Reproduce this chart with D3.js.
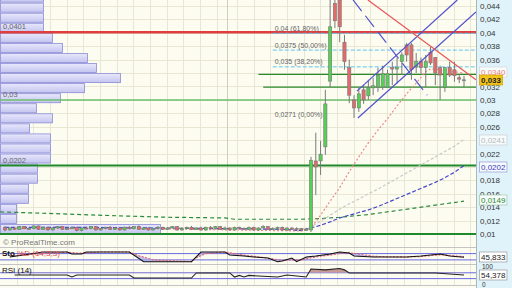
<!DOCTYPE html>
<html>
<head>
<meta charset="utf-8">
<script src="https://cdnjs.cloudflare.com/ajax/libs/d3/7.8.5/d3.min.js"></script>
<style>
body { margin: 0; background: #fff; }
svg { display: block; font-family: "Liberation Sans", Arial, sans-serif; }
</style>
</head>
<body>
<div id="chart"></div>
<script>
// daily candles, index 0..96 (flat base, then the breakout)
let opens = [
  0.0110,0.0106,0.0109,0.0107,0.0111,0.0108,0.0108,0.0112,0.0107,0.0110,
  0.0106,0.0109,0.0111,0.0107,0.0108,0.0110,0.0105,0.0109,0.0108,0.0111,
  0.0106,0.0108,0.0110,0.0107,0.0109,0.0106,0.0110,0.0108,0.0111,0.0107,
  0.0109,0.0106,0.0108,0.0110,0.0107,0.0109,0.0111,0.0106,0.0108,0.0110,
  0.0107,0.0109,0.0106,0.0110,0.0108,0.0111,0.0107,0.0109,0.0106,0.0110,
  0.0108,0.0107,0.0110,0.0106,0.0109,0.0111,0.0107,0.0108,0.0110,0.0106,
  0.0109,0.0107,0.0108,0.0106,
  0.0106,0.0209,0.0209,0.0230,0.0328,0.0444,0.0449,0.0386,0.0348,0.0300,
  0.0288,0.0315,0.0306,0.0318,0.0319,0.0319,0.0319,0.0348,0.0346,0.0357,
  0.0382,0.0382,0.0349,0.0357,0.0348,0.0371,0.0363,0.0348,0.0319,0.0348,
  0.0345,0.0333,0.0330];
let highs = [
  0.0112,0.0110,0.0110,0.0112,0.0112,0.0110,0.0113,0.0113,0.0111,0.0111,
  0.0110,0.0112,0.0112,0.0110,0.0111,0.0111,0.0110,0.0111,0.0112,0.0112,
  0.0109,0.0111,0.0112,0.0110,0.0110,0.0111,0.0112,0.0112,0.0113,0.0110,
  0.0110,0.0109,0.0112,0.0111,0.0110,0.0112,0.0112,0.0110,0.0111,0.0112,
  0.0110,0.0111,0.0111,0.0112,0.0112,0.0112,0.0111,0.0110,0.0111,0.0111,
  0.0110,0.0111,0.0111,0.0110,0.0113,0.0112,0.0110,0.0111,0.0111,0.0110,
  0.0110,0.0110,0.0109,0.0109,
  0.0215,0.0251,0.0239,0.0315,0.0460,0.0460,0.0460,0.0397,0.0360,0.0307,
  0.0319,0.0322,0.0330,0.0333,0.0348,0.0351,0.0345,0.0357,0.0363,0.0371,
  0.0385,0.0385,0.0370,0.0363,0.0367,0.0379,0.0364,0.0351,0.0349,0.0357,
  0.0357,0.0339,0.0336];
let lows = [
  0.0104,0.0105,0.0106,0.0106,0.0107,0.0106,0.0107,0.0106,0.0106,0.0105,
  0.0105,0.0108,0.0106,0.0106,0.0107,0.0104,0.0104,0.0107,0.0107,0.0105,
  0.0105,0.0107,0.0106,0.0106,0.0105,0.0105,0.0107,0.0107,0.0106,0.0106,
  0.0105,0.0105,0.0107,0.0106,0.0106,0.0108,0.0105,0.0105,0.0107,0.0106,
  0.0106,0.0105,0.0105,0.0107,0.0107,0.0106,0.0106,0.0105,0.0105,0.0107,
  0.0106,0.0106,0.0105,0.0105,0.0108,0.0106,0.0106,0.0107,0.0105,0.0105,
  0.0106,0.0106,0.0105,0.0105,
  0.0103,0.0158,0.0188,0.0218,0.0319,0.0407,0.0386,0.0345,0.0295,0.0273,
  0.0282,0.0294,0.0300,0.0307,0.0312,0.0315,0.0318,0.0322,0.0324,0.0337,
  0.0357,0.0330,0.0340,0.0339,0.0319,0.0352,0.0322,0.0300,0.0312,0.0334,
  0.0327,0.0325,0.0319];
let closes = [
  0.0106,0.0109,0.0107,0.0111,0.0108,0.0108,0.0112,0.0107,0.0110,0.0106,
  0.0109,0.0111,0.0107,0.0108,0.0110,0.0105,0.0109,0.0108,0.0111,0.0106,
  0.0108,0.0110,0.0107,0.0109,0.0106,0.0110,0.0108,0.0111,0.0107,0.0109,
  0.0106,0.0108,0.0110,0.0107,0.0109,0.0111,0.0106,0.0108,0.0110,0.0107,
  0.0109,0.0106,0.0110,0.0108,0.0111,0.0107,0.0109,0.0106,0.0110,0.0108,
  0.0107,0.0110,0.0106,0.0109,0.0111,0.0107,0.0108,0.0110,0.0106,0.0109,
  0.0107,0.0108,0.0106,0.0107,
  0.0210,0.0200,0.0219,0.0294,0.0409,0.0418,0.0409,0.0357,0.0307,0.0288,
  0.0309,0.0300,0.0318,0.0321,0.0337,0.0339,0.0339,0.0346,0.0349,0.0367,
  0.0367,0.0345,0.0357,0.0348,0.0357,0.0355,0.0340,0.0337,0.0348,0.0337,
  0.0336,0.0331,0.0330];

// moving averages, [candle index, value]
let maPink = [[0,0.0108],[30,0.0108],[62,0.01045],[64,0.0109],[66,0.0128],[68,0.0149],[70,0.0169],[72,0.0193],
  [74,0.0215],[76,0.0236],[78,0.0255],[80,0.0272],[82,0.0291],[84,0.0309],[86,0.0325],[88,0.0342],
  [89,0.0346],[90,0.0346],[92,0.0343],[94,0.0342],[96,0.0340]];
let maGrey = [[50,0.0108],[62,0.0106],[64,0.0111],[66,0.0119],[68,0.0128],[70,0.0137],[72,0.0145],[74,0.0152],
  [76,0.0160],[78,0.0167],[80,0.0175],[82,0.0183],[84,0.0191],[86,0.0199],[88,0.0207],[90,0.0215],
  [92,0.0223],[94,0.0231],[96,0.0241]];
let maBlue = [[0,0.0110],[15,0.0110],[30,0.0109],[45,0.0108],[58,0.0107],[62,0.0105],[64,0.0109],[66,0.0113],
  [68,0.0118],[70,0.0124],[72,0.0128],[74,0.0132],[76,0.0136],[78,0.0141],[80,0.0147],[82,0.0153],
  [84,0.0159],[86,0.0165],[88,0.0171],[90,0.0177],[92,0.0184],[94,0.0192],[96,0.0202]];
let maGreen = [[-1,0.0133],[12,0.0130],[24,0.0127],[34,0.0125],[46,0.0124],[48,0.0122],[62,0.0122],
  [66,0.0123],[70,0.0125],[76,0.0129],[82,0.0135],[88,0.0141],[96,0.0149]];

// volume by price (bins of 0.0015 from 0.01), thousands
let profileBins = [0.0100,0.0115,0.0130,0.0145,0.0160,0.0175,0.0190,0.0205,0.0220,0.0235,0.0250,0.0265,
  0.0280,0.0295,0.0310,0.0325,0.0340,0.0355,0.0370,0.0385,0.0400,0.0415,0.0430,0.0445];
let profileVolumes = [1600,160,160,280,280,370,370,500,500,500,290,520,360,600,840,1200,960,870,620,520,430,430,430,430];

// horizontal levels
let levelValues = [0.0401, 0.03, 0.0202, 0.01];
let supportValues = [0.0338, 0.0319];
let supportStart = [53, 54];

// fibonacci retracement
let fibValues = [0.04, 0.0375, 0.035, 0.0271];
let fibPcts = [61.8, 50, 38.2, 0];
let fibStart = 56;

// trendlines, [index, price] end points
let channelLines = [[[73.6,0.0313],[94.6,0.0449]], [[73.8,0.0273],[98.5,0.0431]]];
let dashedLine = [[72.8,0.0449],[88.3,0.0307]];
let redLine = [[75.9,0.0449],[98.5,0.0330]];

// indicators
let stochK = [[1,48],[8,95],[13,95],[14,76],[16,76],[17,95],[26,95],[29,3],[39,3],[41,95],[46,95],[47,67],
  [50,57],[52,48],[55,38],[57,3],[58,10],[60,38],[61,3],[63,48],[65,57],[68,76],[70,95],[72,86],[73,57],
  [77,48],[80,48],[84,48],[87,57],[91,76],[93,57],[96,45.833]];
let stochD = [[1,60],[8,80],[13,95],[15,85],[17,85],[20,95],[26,95],[28,60],[31,20],[39,3],[40,40],[42,80],
  [46,95],[48,80],[51,60],[53,50],[56,30],[58,15],[60,20],[62,20],[64,40],[66,55],[68,65],[70,80],[72,88],
  [74,75],[77,55],[80,50],[84,48],[87,52],[90,65],[92,68],[94,58],[96,52]];
let rsi = [[2,55],[13,55],[14,41],[15,55],[26,55],[27,34],[39,34],[40,69],[47,69],[48,41],[49,52],[50,41],
  [51,52],[53,48],[57,41],[59,55],[63,41],[64,96],[67,90],[70,99],[71,90],[72,69],[80,69],[87,69],[90,69],[96,54.378]];

// price ticks shown on the right (0,034 / 0,024 / 0,02 sit under value boxes)
let priceTicks = [0.01,0.012,0.014,0.016,0.018,0.02,0.022,0.024,0.026,0.028,0.03,0.032,0.034,0.036,0.038,0.04,0.042,0.044];
let hiddenTicks = [0.034, 0.024, 0.02];

let width = 512, height = 288;
let plotW = 476;

let svg = d3.select('#chart').append('svg')
    .attr('width', width)
    .attr('height', height);

let x = d3.scaleLinear().domain([0, 96]).range([5, 464]);
let y = d3.scaleLinear().domain([0.01, 0.044]).range([234, 6]);
let yStoch = d3.scaleLinear().domain([0, 100]).range([262, 251.5]);
let yRsi = d3.scaleLinear().domain([0, 100]).range([283, 268.4]);

const fmt3 = v => d3.format(".3~f")(v).replace(".", ",");
const fmt4 = v => d3.format(".4~f")(v).replace(".", ",");
const crisp = v => Math.round(v) + 0.5;

let defs = svg.append('defs');
defs.append('clipPath').attr('id', 'clipMain')
    .append('rect').attr('width', plotW).attr('height', 247);
let grad = defs.append('linearGradient').attr('id', 'volGrad')
    .attr('x1', 0).attr('y1', 0).attr('x2', 0).attr('y2', 1);
grad.append('stop').attr('offset', '0%').attr('stop-color', '#e8e8fc');
grad.append('stop').attr('offset', '100%').attr('stop-color', '#c4c4f0');

// backgrounds
svg.append('rect').attr('width', width).attr('height', height).attr('fill', '#fcfcf1');
svg.append('rect').attr('x', plotW).attr('width', width - plotW).attr('height', height).attr('fill', '#e0f3fa');

// grid
let grid = svg.append('g');
grid.selectAll('line.h').data(priceTicks).enter().append('line')
    .attr('x1', 0).attr('x2', plotW)
    .attr('y1', d => crisp(y(d))).attr('y2', d => crisp(y(d)))
    .attr('stroke', '#e7e7d4');
let gridX = d3.range(16.67, 220, 16.67).concat(d3.range(237, plotW, 16.67));
grid.selectAll('line.v').data(gridX).enter().append('line')
    .attr('x1', d => crisp(d)).attr('x2', d => crisp(d))
    .attr('y1', 0).attr('y2', 285)
    .attr('stroke', '#e7e7d4');
grid.append('line').attr('x1', 227.5).attr('x2', 227.5).attr('y1', 0).attr('y2', 285)
    .attr('stroke', '#cfcfc0');

let main = svg.append('g').attr('clip-path', 'url(#clipMain)');

// volume profile
let volX = d3.scaleLinear().domain([0, 1600]).range([0, 160]);
main.selectAll('rect.vol').data(profileBins).enter().append('rect')
    .attr('x', 0.5)
    .attr('y', d => y(d + 0.0015) + 0.5)
    .attr('width', (d, i) => volX(profileVolumes[i]))
    .attr('height', d => y(d) - y(d + 0.0015) - 1)
    .attr('fill', 'url(#volGrad)')
    .attr('stroke', '#8c8cd8')
    .attr('stroke-width', 0.8);

// horizontal levels
let levelStyle = [
  {color: '#e03e3e', w: 2.5, label: true},
  {color: '#6cbf6c', w: 1.5, label: true},
  {color: '#1f8a2a', w: 2, label: true},
  {color: '#1f8a2a', w: 2, label: false}];
levelValues.forEach((v, i) => {
  main.append('line').attr('x1', 0).attr('x2', plotW)
      .attr('y1', y(v)).attr('y2', y(v))
      .attr('stroke', levelStyle[i].color).attr('stroke-width', levelStyle[i].w);
  if (levelStyle[i].label) {
    main.append('text').attr('x', 3).attr('y', y(v) - 3)
        .attr('font-size', 7.5).attr('fill', '#666').text(fmt4(v));
  }
});
supportValues.forEach((v, i) => {
  main.append('line').attr('x1', x(supportStart[i])).attr('x2', plotW)
      .attr('y1', y(v)).attr('y2', y(v))
      .attr('stroke', '#2a8a2a').attr('stroke-width', 1.1);
});

// fibonacci
fibValues.forEach((v, i) => {
  if (fibPcts[i] > 0) {
    main.append('line').attr('x1', x(fibStart)).attr('x2', plotW)
        .attr('y1', y(v) + 0.5).attr('y2', y(v) + 0.5)
        .attr('stroke', '#62c4f2').attr('stroke-width', 1)
        .attr('stroke-dasharray', '4,2');
  }
  main.append('text').attr('x', x(fibStart) + 2).attr('y', y(v) - 2)
      .attr('font-size', 7).attr('fill', '#666')
      .text(fmt4(v) + " (" + d3.format(".2f")(fibPcts[i]).replace(".", ",") + "%)");
});

// moving averages
let maLine = d3.line().x(d => x(d[0])).y(d => y(d[1]));
[[maGreen, '#2a8a3a', '4,3'], [maGrey, '#c8c8c8', '3,2'], [maBlue, '#4848c8', '4,2'], [maPink, '#f08888', '2,2']]
  .forEach(m => {
    main.append('path').attr('d', maLine(m[0]))
        .attr('fill', 'none').attr('stroke', m[1]).attr('stroke-width', 1.2)
        .attr('stroke-dasharray', m[2]);
  });

// candles
let candles = main.append('g');
candles.selectAll('line').data(opens).enter().append('line')
    .attr('x1', (d, i) => x(i)).attr('x2', (d, i) => x(i))
    .attr('y1', (d, i) => y(highs[i])).attr('y2', (d, i) => y(lows[i]))
    .attr('stroke', '#7a7a7a').attr('stroke-width', 1);
candles.selectAll('rect').data(opens).enter().append('rect')
    .attr('x', (d, i) => x(i) - 1.6)
    .attr('width', 3.2)
    .attr('y', (d, i) => y(Math.max(d, closes[i])))
    .attr('height', (d, i) => Math.max(1, Math.abs(y(d) - y(closes[i]))))
    .attr('fill', (d, i) => closes[i] >= d ? '#55d055' : '#e46a6a')
    .attr('stroke', '#777').attr('stroke-width', 0.6);

// trendlines
let tLine = d3.line().x(d => x(d[0])).y(d => y(d[1]));
channelLines.forEach(l => {
  main.append('path').attr('d', tLine(l)).attr('fill', 'none')
      .attr('stroke', '#5252cc').attr('stroke-width', 1.2);
});
main.append('path').attr('d', tLine(dashedLine)).attr('fill', 'none')
    .attr('stroke', '#5252cc').attr('stroke-width', 1.2).attr('stroke-dasharray', '14,6');
main.append('path').attr('d', tLine(redLine)).attr('fill', 'none')
    .attr('stroke', '#e85858').attr('stroke-width', 1.2);

main.append('text').attr('x', 3).attr('y', 245)
    .attr('font-size', 8).attr('fill', '#777').text('\u00a9 ProRealTime.com');

// panel separators
[247.5, 264.5, 285.5].forEach(v => {
  svg.append('line').attr('x1', 0).attr('x2', plotW).attr('y1', v).attr('y2', v)
      .attr('stroke', '#c4c4c4');
});
svg.append('line').attr('x1', plotW + 0.5).attr('x2', plotW + 0.5).attr('y1', 0).attr('y2', height)
    .attr('stroke', '#a8b8c0');

// stochastic
[80, 20].forEach(v => {
  svg.append('line').attr('x1', 0).attr('x2', plotW).attr('y1', yStoch(v)).attr('y2', yStoch(v))
      .attr('stroke', '#6a6ae4').attr('stroke-width', 1);
});
let aboveD = d3.area().x(d => x(d[0])).y0(248).y1(d => yStoch(d[1]));
let belowD = d3.area().x(d => x(d[0])).y0(264).y1(d => yStoch(d[1]));
defs.append('clipPath').attr('id', 'clipAboveD').append('path').attr('d', aboveD(stochD));
defs.append('clipPath').attr('id', 'clipBelowD').append('path').attr('d', belowD(stochD));
svg.append('g').attr('clip-path', 'url(#clipBelowD)')
    .append('path').attr('d', aboveD(stochK)).attr('fill', '#a4a4ec').attr('opacity', 0.7);
svg.append('g').attr('clip-path', 'url(#clipAboveD)')
    .append('path').attr('d', belowD(stochK)).attr('fill', '#a4a4ec').attr('opacity', 0.7);
let sLine = d3.line().x(d => x(d[0])).y(d => yStoch(d[1]));
svg.append('path').attr('d', sLine(stochD)).attr('fill', 'none')
    .attr('stroke', '#e86060').attr('stroke-width', 1.1).attr('stroke-dasharray', '2,1.5');
svg.append('path').attr('d', sLine(stochK)).attr('fill', 'none')
    .attr('stroke', '#111').attr('stroke-width', 1.1);
let stLabel = svg.append('text').attr('x', 2).attr('y', 256).attr('font-size', 8);
stLabel.append('tspan').attr('font-weight', 'bold').attr('fill', '#111').text('Sto');
stLabel.append('tspan').attr('fill', '#e05050').text(' %D (14,3,3)');

// rsi
[70, 30].forEach(v => {
  svg.append('line').attr('x1', 0).attr('x2', plotW).attr('y1', yRsi(v)).attr('y2', yRsi(v))
      .attr('stroke', '#6a6ae4').attr('stroke-width', 1);
});
defs.append('clipPath').attr('id', 'clipRsiHigh').append('rect')
    .attr('x', 0).attr('y', 265).attr('width', plotW).attr('height', yRsi(70) - 265);
svg.append('g').attr('clip-path', 'url(#clipRsiHigh)')
    .append('path')
    .attr('d', d3.area().x(d => x(d[0])).y0(yRsi(70)).y1(d => yRsi(d[1]))(rsi))
    .attr('fill', '#c89a96');
svg.append('path').attr('d', d3.line().x(d => x(d[0])).y(d => yRsi(d[1]))(rsi))
    .attr('fill', 'none').attr('stroke', '#222').attr('stroke-width', 1.1);
svg.append('text').attr('x', 2).attr('y', 273).attr('font-size', 8).attr('fill', '#111').text('RSI (14)');

// right axis
let shownTicks = priceTicks.filter(v => hiddenTicks.indexOf(v) < 0);
let axisG = svg.append('g').attr('transform', 'translate(478,0)')
    .call(d3.axisRight(y).tickValues(shownTicks).tickSize(0).tickPadding(2).tickFormat(fmt3));
axisG.select('.domain').remove();
axisG.selectAll('text').attr('font-size', 8).attr('fill', '#333')
    .attr('font-family', '"Liberation Sans", Arial, sans-serif');

svg.append('text').attr('x', 482).attr('y', 268.5).attr('font-size', 6.5).attr('fill', '#333').text('100');
svg.append('text').attr('x', 482).attr('y', 287).attr('font-size', 6.5).attr('fill', '#333').text('0');

function valueBox(yPos, text, color, bg, border, bold) {
  let g = svg.append('g');
  let t = g.append('text').attr('x', 481).attr('y', yPos + 3)
      .attr('font-size', 8).attr('fill', color)
      .attr('font-weight', bold ? 'bold' : 'normal').text(text);
  let w = t.node().getComputedTextLength();
  g.insert('rect', 'text').attr('x', 479.5).attr('y', Math.round(yPos) - 5)
      .attr('width', w + 3).attr('height', 10)
      .attr('fill', bg).attr('stroke', border).attr('stroke-width', 0.7);
}
let lastPink = maPink[maPink.length - 1][1];
let lastGrey = maGrey[maGrey.length - 1][1];
let lastBlue = maBlue[maBlue.length - 1][1];
let lastGreen = maGreen[maGreen.length - 1][1];
valueBox(y(lastPink) - 1.5, d3.format(".4f")(lastPink).replace(".", ","), '#f08080', '#f6fbfc', '#d8d8d8', false);
valueBox(y(closes[closes.length - 1]) + 0.5, fmt3(closes[closes.length - 1]), '#222', '#f2c41a', '#d0a000', true);
valueBox(y(lastGrey) + 1, fmt4(lastGrey), '#b8b8b8', '#f6fbfc', '#cfcfcf', false);
valueBox(y(lastBlue) + 1, fmt4(lastBlue), '#3a3ac0', '#f6fbfc', '#9a9ad0', false);
valueBox(y(lastGreen) - 1.5, fmt4(lastGreen), '#1f8a2a', '#f6fbfc', '#a0c8a0', false);
valueBox(yStoch(stochK[stochK.length - 1][1]), d3.format(".3f")(stochK[stochK.length - 1][1]).replace(".", ","), '#222', '#ffffff', '#999', false);
valueBox(yRsi(rsi[rsi.length - 1][1]), d3.format(".3f")(rsi[rsi.length - 1][1]).replace(".", ","), '#222', '#ffffff', '#999', false);
</script>
</body>
</html>
